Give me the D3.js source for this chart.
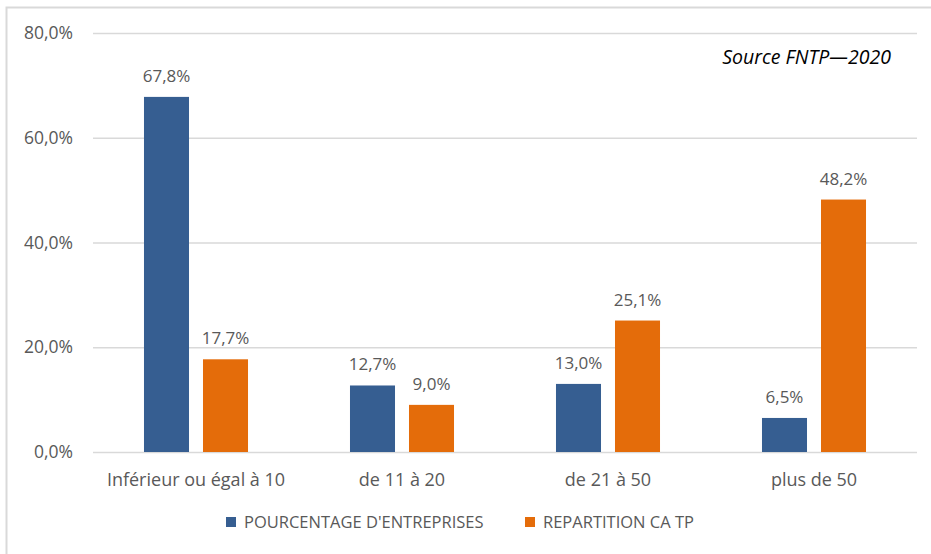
<!DOCTYPE html>
<html>
<head>
<meta charset="utf-8">
<script src="https://cdn.jsdelivr.net/npm/d3@7"></script>
<style>
  body { margin: 0; background: #fff; }
  text { font-family: "Open Sans", sans-serif; }
</style>
</head>
<body>
<script>
// Chart data
var categories = ["Inférieur ou égal à 10", "de 11 à 20", "de 21 à 50", "plus de 50"];
var seriesNames = ["POURCENTAGE D'ENTREPRISES", "REPARTITION CA TP"];
var entreprises = [67.8, 12.7, 13.0, 6.5];
var repartition = [17.7, 9.0, 25.1, 48.2];
var yTicks = [0, 20, 40, 60, 80];
var colors = ["#365e91", "#e46c0a"];

var svgWidth = 931;
var svgHeight = 554;

var margin = { top: 33, right: 14, bottom: 102, left: 93 };
var chartWidth = svgWidth - margin.left - margin.right;
var chartHeight = svgHeight - margin.top - margin.bottom;

var svg = d3.select("body")
  .append("svg")
  .attr("width", svgWidth)
  .attr("height", svgHeight);

// outer frame
svg.append("rect")
  .attr("x", 6.5)
  .attr("y", 7.5)
  .attr("width", svgWidth)
  .attr("height", svgHeight)
  .attr("fill", "none")
  .attr("stroke", "#d9d9d9")
  .attr("stroke-width", 2);

var chartGroup = svg.append("g")
  .attr("transform", `translate(${margin.left}, ${margin.top})`);

var fmt = function(v) { return v.toFixed(1).replace(".", ",") + "%"; };

var x0 = d3.scaleBand()
  .domain(categories)
  .range([0, chartWidth])
  .paddingInner(0.495)
  .paddingOuter(0.2475);

var x1 = d3.scaleBand()
  .domain(seriesNames)
  .range([0, x0.bandwidth()])
  .paddingInner(0.237);

var yScale = d3.scaleLinear()
  .domain([0, 80])
  .range([chartHeight, 0]);

// gridlines + y labels
var leftAxis = d3.axisLeft(yScale)
  .tickValues(yTicks)
  .tickSize(-chartWidth)
  .tickPadding(20)
  .tickFormat(fmt);

var yAxis = chartGroup.append("g").call(leftAxis);
yAxis.select(".domain").remove();
yAxis.selectAll("line").attr("stroke", "#d9d9d9").attr("stroke-width", 1.5);
yAxis.selectAll("text")
  .attr("fill", "#595959")
  .style("font-size", "17.5px");

// bottom category labels
var bottomAxis = d3.axisBottom(x0).tickSize(0).tickPadding(21);
var xAxis = chartGroup.append("g")
  .attr("transform", "translate(0, " + chartHeight + ")")
  .call(bottomAxis);
xAxis.select(".domain").remove();
xAxis.selectAll("text")
  .attr("fill", "#595959")
  .style("font-size", "18px");

var rows = categories.map(function(c, i) {
  return { cat: c, values: [entreprises[i], repartition[i]] };
});

var groups = chartGroup.selectAll(".grp")
  .data(rows)
  .enter().append("g")
  .attr("transform", d => `translate(${x0(d.cat)},0)`);

groups.selectAll("rect")
  .data(d => d.values.map((v, j) => ({ name: seriesNames[j], value: v, j: j })))
  .enter().append("rect")
  .attr("x", d => x1(d.name))
  .attr("y", d => yScale(d.value))
  .attr("width", x1.bandwidth())
  .attr("height", d => chartHeight - yScale(d.value))
  .attr("fill", d => colors[d.j]);

groups.selectAll(".lbl")
  .data(d => d.values.map((v, j) => ({ name: seriesNames[j], value: v })))
  .enter().append("text")
  .attr("x", d => x1(d.name) + x1.bandwidth() / 2)
  .attr("y", d => yScale(d.value) - 15)
  .attr("text-anchor", "middle")
  .attr("fill", "#595959")
  .style("font-size", "17px")
  .text(d => fmt(d.value));

// source note
svg.append("text")
  .attr("x", 891)
  .attr("y", 64)
  .attr("text-anchor", "end")
  .attr("fill", "#000")
  .style("font-size", "19.5px")
  .style("font-style", "italic")
  .text("Source FNTP\u20142020");

// legend
var legendX = [226, 525];
var legend = svg.selectAll(".legend")
  .data(seriesNames)
  .enter().append("g")
  .attr("transform", (d, i) => `translate(${legendX[i]}, 517)`);

legend.append("rect")
  .attr("width", 10)
  .attr("height", 10)
  .attr("fill", (d, i) => colors[i]);

legend.append("text")
  .attr("x", 18)
  .attr("y", 11)
  .attr("fill", "#595959")
  .style("font-size", "16.5px")
  .text(d => d);
</script>
</body>
</html>
